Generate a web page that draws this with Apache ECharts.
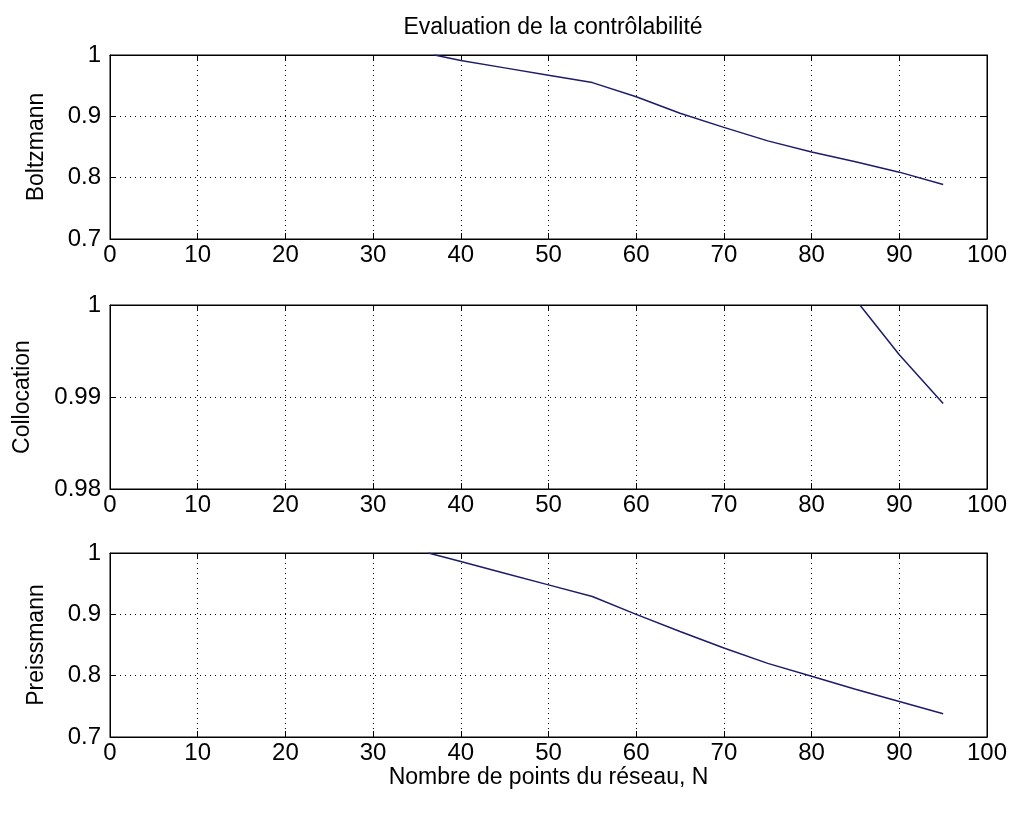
<!DOCTYPE html>
<html><head><meta charset="utf-8">
<script src="https://cdn.jsdelivr.net/npm/echarts@6/dist/echarts.min.js"></script>
<style>html,body{margin:0;padding:0;background:#fff}#c{width:1013px;height:821px}</style>
</head><body><div id="c"></div>
<script>
const title = "Evaluation de la contrôlabilité";
const xName = "Nombre de points du réseau, N";
const xTicks = [0,10,20,30,40,50,60,70,80,90,100];
const panelNames = ["Boltzmann","Collocation","Preissmann"];
const boltzX = [37,40,45,50,55,60,65,70,75,80,85,90,95];
const boltzY = [1.0,0.991,0.979,0.967,0.955,0.932,0.905,0.882,0.86,0.842,0.826,0.809,0.789];
const collocX = [85.5,90,95];
const collocY = [1.0,0.9946,0.9893];
const preisX = [36.3,40,45,50,55,60,65,70,75,80,85,90,95];
const preisY = [1.0,0.986,0.967,0.948,0.929,0.9,0.872,0.845,0.82,0.799,0.778,0.758,0.738];
const yRanges = [[0.7,1,0.1],[0.98,1,0.01],[0.7,1,0.1]];
const seriesX = [boltzX, collocX, preisX];
const seriesY = [boltzY, collocY, preisY];

const FONT = "'Liberation Sans',Arial,sans-serif";
const tops = [55, 305, 553];
const H = 184;
const nameGaps = [62, 76, 62];
const grids = [], xAxes = [], yAxes = [], series = [];
for (let i=0;i<3;i++){
  grids.push({left:110, width:877, top:tops[i], height:H, show:true, borderColor:'#000', borderWidth:1, backgroundColor:'#fff'});
  const dotted = {show:true, lineStyle:{color:'#000', type:[1,4], width:1}};
  xAxes.push({type:'value', gridIndex:i, min:xTicks[0], max:xTicks[xTicks.length-1], interval:xTicks[1]-xTicks[0], position:'bottom',
    name: i===2 ? xName : '', nameLocation:'middle', nameGap:27,
    nameTextStyle:{fontFamily:FONT, fontSize:23, color:'#000'},
    axisLine:{show:true, onZero:false, lineStyle:{color:'#000'}},
    axisTick:{show:true, inside:true, length:6, lineStyle:{color:'#000'}},
    axisLabel:{fontFamily:FONT, fontSize:24, color:'#000', margin:4},
    splitLine:dotted});
  xAxes.push({type:'value', gridIndex:i, min:0, max:100, interval:10, position:'top',
    axisLine:{show:true, onZero:false, lineStyle:{color:'#000'}},
    axisTick:{show:true, inside:true, length:6, lineStyle:{color:'#000'}},
    axisLabel:{show:false}, splitLine:{show:false}});
  const r = yRanges[i];
  yAxes.push({type:'value', gridIndex:i, min:r[0], max:r[1], interval:r[2], position:'left',
    name: panelNames[i], nameLocation:'middle', nameGap: nameGaps[i], nameRotate:90,
    nameTextStyle:{fontFamily:FONT, fontSize:23, color:'#000'},
    axisLine:{show:true, onZero:false, lineStyle:{color:'#000'}},
    axisTick:{show:true, inside:true, length:6, lineStyle:{color:'#000'}},
    axisLabel:{fontFamily:FONT, fontSize:24, color:'#000', margin:9,
      formatter: v => String(parseFloat(v.toFixed(4)))},
    splitLine:dotted});
  yAxes.push({type:'value', gridIndex:i, min:r[0], max:r[1], interval:r[2], position:'right',
    axisLine:{show:true, onZero:false, lineStyle:{color:'#000'}},
    axisTick:{show:true, inside:true, length:6, lineStyle:{color:'#000'}},
    axisLabel:{show:false}, splitLine:{show:false}});
  series.push({type:'line', xAxisIndex:2*i, yAxisIndex:2*i, showSymbol:false, symbol:'none',
    data: seriesX[i].map((x,k)=>[x, seriesY[i][k]]),
    lineStyle:{color:'#1c1c6b', width:1.5}, clip:true, animation:false});
}
const chart = echarts.init(document.getElementById('c'));
chart.setOption({
  backgroundColor:'#fff', animation:false,
  title:{text:title, left:548, top:11, textAlign:'center',
    textStyle:{fontFamily:FONT, fontSize:23, fontWeight:'normal', color:'#000'}},
  grid:grids, xAxis:xAxes, yAxis:yAxes, series:series
});
</script></body></html>
